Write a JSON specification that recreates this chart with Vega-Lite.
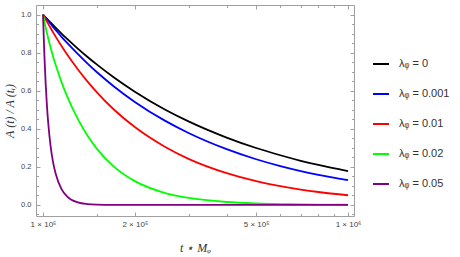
{
  "$schema": "https://vega.github.io/schema/vega-lite/v6.json",
  "width": 318,
  "height": 211,
  "autosize": "none",
  "padding": {"left": 36, "top": 5, "right": 106, "bottom": 41},
  "background": "white",
  "config": {
    "view": {"stroke": "#a0a0a0", "strokeWidth": 1},
    "axis": {"domain": false, "grid": false, "tickColor": "#a0a0a0", "labelFont": "Liberation Sans", "labelFontSize": 7.5, "labelColor": "#444444", "labelOverlap": false, "labelFlush": false, "titleFont": "Liberation Serif", "titleFontStyle": "italic", "titleFontWeight": "normal", "titleFontSize": 12, "titleColor": "#333333"},
    "legend": {"orient": "none", "legendX": 336, "legendY": 50, "symbolType": "stroke", "symbolSize": 256, "symbolStrokeWidth": 2, "rowPadding": 16, "labelFontSize": 11, "labelFont": "Liberation Sans", "labelColor": "#333333", "labelOffset": 9, "title": null}
  },
  "data": {"values": [
    {"t":100000,"A":1,"s":"λᵩ = 0"},{"t":102000,"A":0.985,"s":"λᵩ = 0"},{"t":104000,"A":0.971,"s":"λᵩ = 0"},{"t":106000,"A":0.957,"s":"λᵩ = 0"},{"t":108000,"A":0.944,"s":"λᵩ = 0"},{"t":110000,"A":0.931,"s":"λᵩ = 0"},{"t":115000,"A":0.900,"s":"λᵩ = 0"},{"t":120000,"A":0.872,"s":"λᵩ = 0"},{"t":130000,"A":0.821,"s":"λᵩ = 0"},{"t":140000,"A":0.777,"s":"λᵩ = 0"},{"t":150000,"A":0.738,"s":"λᵩ = 0"},{"t":170000,"A":0.672,"s":"λᵩ = 0"},{"t":200000,"A":0.595,"s":"λᵩ = 0"},{"t":250000,"A":0.503,"s":"λᵩ = 0"},{"t":300000,"A":0.439,"s":"λᵩ = 0"},{"t":400000,"A":0.354,"s":"λᵩ = 0"},{"t":500000,"A":0.299,"s":"λᵩ = 0"},{"t":600000,"A":0.261,"s":"λᵩ = 0"},{"t":700000,"A":0.232,"s":"λᵩ = 0"},{"t":800000,"A":0.210,"s":"λᵩ = 0"},{"t":1000000,"A":0.178,"s":"λᵩ = 0"},
    {"t":100000,"A":1,"s":"λᵩ = 0.001"},{"t":102000,"A":0.983,"s":"λᵩ = 0.001"},{"t":104000,"A":0.966,"s":"λᵩ = 0.001"},{"t":106000,"A":0.950,"s":"λᵩ = 0.001"},{"t":108000,"A":0.934,"s":"λᵩ = 0.001"},{"t":110000,"A":0.919,"s":"λᵩ = 0.001"},{"t":115000,"A":0.883,"s":"λᵩ = 0.001"},{"t":120000,"A":0.851,"s":"λᵩ = 0.001"},{"t":130000,"A":0.793,"s":"λᵩ = 0.001"},{"t":140000,"A":0.742,"s":"λᵩ = 0.001"},{"t":150000,"A":0.698,"s":"λᵩ = 0.001"},{"t":170000,"A":0.625,"s":"λᵩ = 0.001"},{"t":200000,"A":0.541,"s":"λᵩ = 0.001"},{"t":250000,"A":0.444,"s":"λᵩ = 0.001"},{"t":300000,"A":0.378,"s":"λᵩ = 0.001"},{"t":400000,"A":0.293,"s":"λᵩ = 0.001"},{"t":500000,"A":0.240,"s":"λᵩ = 0.001"},{"t":600000,"A":0.204,"s":"λᵩ = 0.001"},{"t":700000,"A":0.178,"s":"λᵩ = 0.001"},{"t":800000,"A":0.158,"s":"λᵩ = 0.001"},{"t":1000000,"A":0.130,"s":"λᵩ = 0.001"},
    {"t":100000,"A":1,"s":"λᵩ = 0.01"},{"t":102000,"A":0.975,"s":"λᵩ = 0.01"},{"t":104000,"A":0.951,"s":"λᵩ = 0.01"},{"t":106000,"A":0.928,"s":"λᵩ = 0.01"},{"t":108000,"A":0.905,"s":"λᵩ = 0.01"},{"t":110000,"A":0.884,"s":"λᵩ = 0.01"},{"t":115000,"A":0.835,"s":"λᵩ = 0.01"},{"t":120000,"A":0.790,"s":"λᵩ = 0.01"},{"t":130000,"A":0.713,"s":"λᵩ = 0.01"},{"t":140000,"A":0.648,"s":"λᵩ = 0.01"},{"t":150000,"A":0.593,"s":"λᵩ = 0.01"},{"t":170000,"A":0.504,"s":"λᵩ = 0.01"},{"t":200000,"A":0.409,"s":"λᵩ = 0.01"},{"t":250000,"A":0.307,"s":"λᵩ = 0.01"},{"t":300000,"A":0.242,"s":"λᵩ = 0.01"},{"t":400000,"A":0.167,"s":"λᵩ = 0.01"},{"t":500000,"A":0.125,"s":"λᵩ = 0.01"},{"t":600000,"A":0.099,"s":"λᵩ = 0.01"},{"t":700000,"A":0.081,"s":"λᵩ = 0.01"},{"t":800000,"A":0.068,"s":"λᵩ = 0.01"},{"t":1000000,"A":0.051,"s":"λᵩ = 0.01"},
    {"t":100000,"A":1,"s":"λᵩ = 0.02"},{"t":102000,"A":0.933,"s":"λᵩ = 0.02"},{"t":104000,"A":0.875,"s":"λᵩ = 0.02"},{"t":106000,"A":0.824,"s":"λᵩ = 0.02"},{"t":108000,"A":0.777,"s":"λᵩ = 0.02"},{"t":110000,"A":0.736,"s":"λᵩ = 0.02"},{"t":115000,"A":0.645,"s":"λᵩ = 0.02"},{"t":120000,"A":0.570,"s":"λᵩ = 0.02"},{"t":130000,"A":0.452,"s":"λᵩ = 0.02"},{"t":140000,"A":0.363,"s":"λᵩ = 0.02"},{"t":150000,"A":0.296,"s":"λᵩ = 0.02"},{"t":170000,"A":0.204,"s":"λᵩ = 0.02"},{"t":200000,"A":0.125,"s":"λᵩ = 0.02"},{"t":250000,"A":0.064,"s":"λᵩ = 0.02"},{"t":300000,"A":0.037,"s":"λᵩ = 0.02"},{"t":400000,"A":0.0156,"s":"λᵩ = 0.02"},{"t":500000,"A":0.008,"s":"λᵩ = 0.02"},{"t":600000,"A":0.0046,"s":"λᵩ = 0.02"},{"t":700000,"A":0.0029,"s":"λᵩ = 0.02"},{"t":800000,"A":0.002,"s":"λᵩ = 0.02"},{"t":1000000,"A":0.001,"s":"λᵩ = 0.02"},
    {"t":100000,"A":1,"s":"λᵩ = 0.05"},{"t":101000,"A":0.794,"s":"λᵩ = 0.05"},{"t":102000,"A":0.64,"s":"λᵩ = 0.05"},{"t":103000,"A":0.523,"s":"λᵩ = 0.05"},{"t":104000,"A":0.432,"s":"λᵩ = 0.05"},{"t":106000,"A":0.304,"s":"λᵩ = 0.05"},{"t":108000,"A":0.221,"s":"λᵩ = 0.05"},{"t":110000,"A":0.165,"s":"λᵩ = 0.05"},{"t":115000,"A":0.083,"s":"λᵩ = 0.05"},{"t":120000,"A":0.044,"s":"λᵩ = 0.05"},{"t":130000,"A":0.0136,"s":"λᵩ = 0.05"},{"t":140000,"A":0.0044,"s":"λᵩ = 0.05"},{"t":150000,"A":0.0015,"s":"λᵩ = 0.05"},{"t":170000,"A":0.0002,"s":"λᵩ = 0.05"},{"t":200000,"A":0,"s":"λᵩ = 0.05"},{"t":300000,"A":0,"s":"λᵩ = 0.05"},{"t":500000,"A":0,"s":"λᵩ = 0.05"},{"t":1000000,"A":0,"s":"λᵩ = 0.05"}
  ]},
  "layer": [
    {
      "mark": {"type": "line", "strokeOpacity": 0},
      "encoding": {
        "x": {"field": "t", "type": "quantitative", "scale": {"type": "log", "domain": [94850, 1046300], "nice": false},
          "axis": {"orient": "top", "labels": false, "title": null, "values": [100000,150000,200000,300000,400000,500000,600000,700000,800000,900000,1000000],
            "tickSize": {"condition": {"test": "indexof([100000,200000,500000,1000000], datum.value) >= 0", "value": -4}, "value": -2.5}}},
        "y": {"field": "A", "type": "quantitative", "scale": {"domain": [-0.058, 1.05], "nice": false, "zero": false},
          "axis": {"orient": "right", "labels": false, "title": null, "values": [-0.05,0,0.05,0.1,0.15,0.2,0.25,0.3,0.35,0.4,0.45,0.5,0.55,0.6,0.65,0.7,0.75,0.8,0.85,0.9,0.95,1.0],
            "tickSize": {"condition": {"test": "abs(datum.value*5 - round(datum.value*5)) < 0.001", "value": -4}, "value": -2.5}}},
        "detail": {"field": "s"}
      }
    },
    {
      "mark": {"type": "line", "strokeWidth": 1.8, "interpolate": "monotone"},
      "encoding": {
        "x": {"field": "t", "type": "quantitative", "scale": {"type": "log", "domain": [94850, 1046300], "nice": false},
          "axis": {"orient": "bottom", "title": "t ⋆ Mᵩ", "titlePadding": 13, "labelPadding": 8, "labelFontSize": 8, "values": [100000,150000,200000,300000,400000,500000,600000,700000,800000,900000,1000000],
            "labelExpr": "datum.value == 100000 ? '1 × 10⁵' : datum.value == 200000 ? '2 × 10⁵' : datum.value == 500000 ? '5 × 10⁵' : datum.value == 1000000 ? '1 × 10⁶' : ''",
            "tickSize": {"condition": {"test": "indexof([100000,200000,500000,1000000], datum.value) >= 0", "value": -4}, "value": -2.5}}},
        "y": {"field": "A", "type": "quantitative", "scale": {"domain": [-0.058, 1.05], "nice": false, "zero": false},
          "axis": {"orient": "left", "title": "A (t) / A (tᵢ)", "titlePadding": 4, "labelPadding": 9, "values": [-0.05,0,0.05,0.1,0.15,0.2,0.25,0.3,0.35,0.4,0.45,0.5,0.55,0.6,0.65,0.7,0.75,0.8,0.85,0.9,0.95,1.0],
            "labelExpr": "abs(datum.value*5 - round(datum.value*5)) < 0.001 ? format(datum.value, '.1f') : ''",
            "tickSize": {"condition": {"test": "abs(datum.value*5 - round(datum.value*5)) < 0.001", "value": -4}, "value": -2.5}}},
        "color": {"field": "s", "type": "nominal", "scale": {"domain": ["λᵩ = 0", "λᵩ = 0.001", "λᵩ = 0.01", "λᵩ = 0.02", "λᵩ = 0.05"], "range": ["#000000", "#0000ff", "#ff0000", "#00ff00", "#800080"]}}
      }
    }
  ],
  "resolve": {"axis": {"x": "independent", "y": "independent"}}
}
